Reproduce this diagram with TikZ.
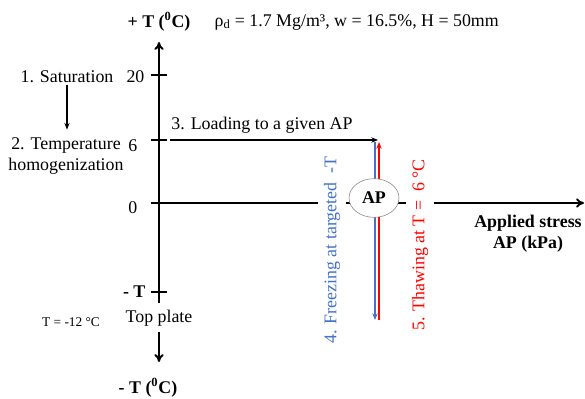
\documentclass[tikz,border=0pt]{standalone}
\usepackage{fontspec}
\setmainfont{Liberation Serif}
\usetikzlibrary{arrows.meta, shapes.geometric, positioning}

\definecolor{FrzBlue}{RGB}{68,114,196}
\definecolor{ThwRed}{RGB}{255,0,0}

\begin{document}
\begin{tikzpicture}[x=0.75pt, y=-0.75pt,
  % ---- styles ----
  axis/.style={line width=1.5pt, -{To[length=6pt,width=7pt]}},
  tickmark/.style={line width=1.3pt},
  arr/.style={line width=1.1pt, -{Stealth[length=5pt,width=4pt]}},
  txt/.style={font=\fontsize{13.4}{15.5}\selectfont, inner sep=1pt, align=center},
  btxt/.style={txt, font=\fontsize{13.4}{15.5}\selectfont\bfseries},
  steplbl/.style={txt, rotate=90, fill=white, inner xsep=0pt, inner ysep=4.5pt},
]
\useasboundingbox (0,0) rectangle (585,399);

% =========================================================
% axes
% =========================================================
\coordinate (ybot)  at (159,303);
\coordinate (ytip)  at (159,42);
\coordinate (ydown) at (159,362);
\coordinate (xstart) at (152,203);
\coordinate (xtip)   at (584,203);

\draw[axis] (ybot) -- (ytip);
\draw[axis] (xstart) -- (xtip);

% ticks
\foreach \y in {75,140,203,292}
  \draw[tickmark] (151,\y) -- (167,\y);

\node[txt, anchor=east] (t20)  at (146,77)  {20};
\node[txt, anchor=east] (t6)   at (139,146) {6};
\node[txt, anchor=east] (t0)   at (139,208) {0};
\node[btxt, anchor=east] (tneg) at (147,292) {- T};

\node[btxt] (Tpos) at (159,22) {+ T (\textsuperscript{0}C)};
\node[txt, anchor=west] (props) at (213,22)
    {ρ\textsubscript{d} = 1.7 Mg/m³, w = 16.5\%, H = 50mm};

\node[txt] (topplate) at (159,318) {Top plate};
\draw[axis, shorten <=3pt] (topplate.south) -- (ydown);
\node[btxt] (Tneg) at (148,388) {- T (\textsuperscript{0}C)};

\node[btxt] (stress) at (528,234) {Applied stress\\AP (kPa)};

% =========================================================
% steps 1 -- 2
% =========================================================
\node[txt] (sat)  at (67,77)  {1. Saturation};
\node[txt] (temp) at (66,156) {2. Temperature\\homogenization};
\draw[arr, shorten >=5pt] (sat.south) -- (sat.south |- temp.north);

\node[txt, font=\fontsize{10}{12}\selectfont] (tplate) at (71,322) {T = -12 °C};

% =========================================================
% step 3 -- loading
% =========================================================
\coordinate (loadstart) at (170,140);
\coordinate (loadend)   at (378,140);
\draw[arr] (loadstart) -- (loadend);
\node[txt] (loadlbl) at (262,125) {3. Loading to a given AP};

% =========================================================
% steps 4 -- 5  (freezing / thawing)
% =========================================================
\coordinate (frztop) at (375,142);
\coordinate (frzbot) at (375,320);
\coordinate (thwbot) at (379,320);
\coordinate (thwtop) at (379,142);
\draw[arr, FrzBlue] (frztop) -- (frzbot);
\draw[arr, ThwRed]  (thwbot) -- (thwtop);

\node[ellipse, draw=gray, fill=white, thin, minimum width=37.5pt,
      minimum height=29pt, inner sep=0pt, btxt] (ap) at (374,198) {AP};

\node[steplbl, text=FrzBlue] (freeze) at (332,250) {4. Freezing at targeted \ -T};
\node[steplbl, text=ThwRed]  (thaw)   at (420,245) {5. Thawing at T = \ 6 °C};

\end{tikzpicture}
\end{document}
